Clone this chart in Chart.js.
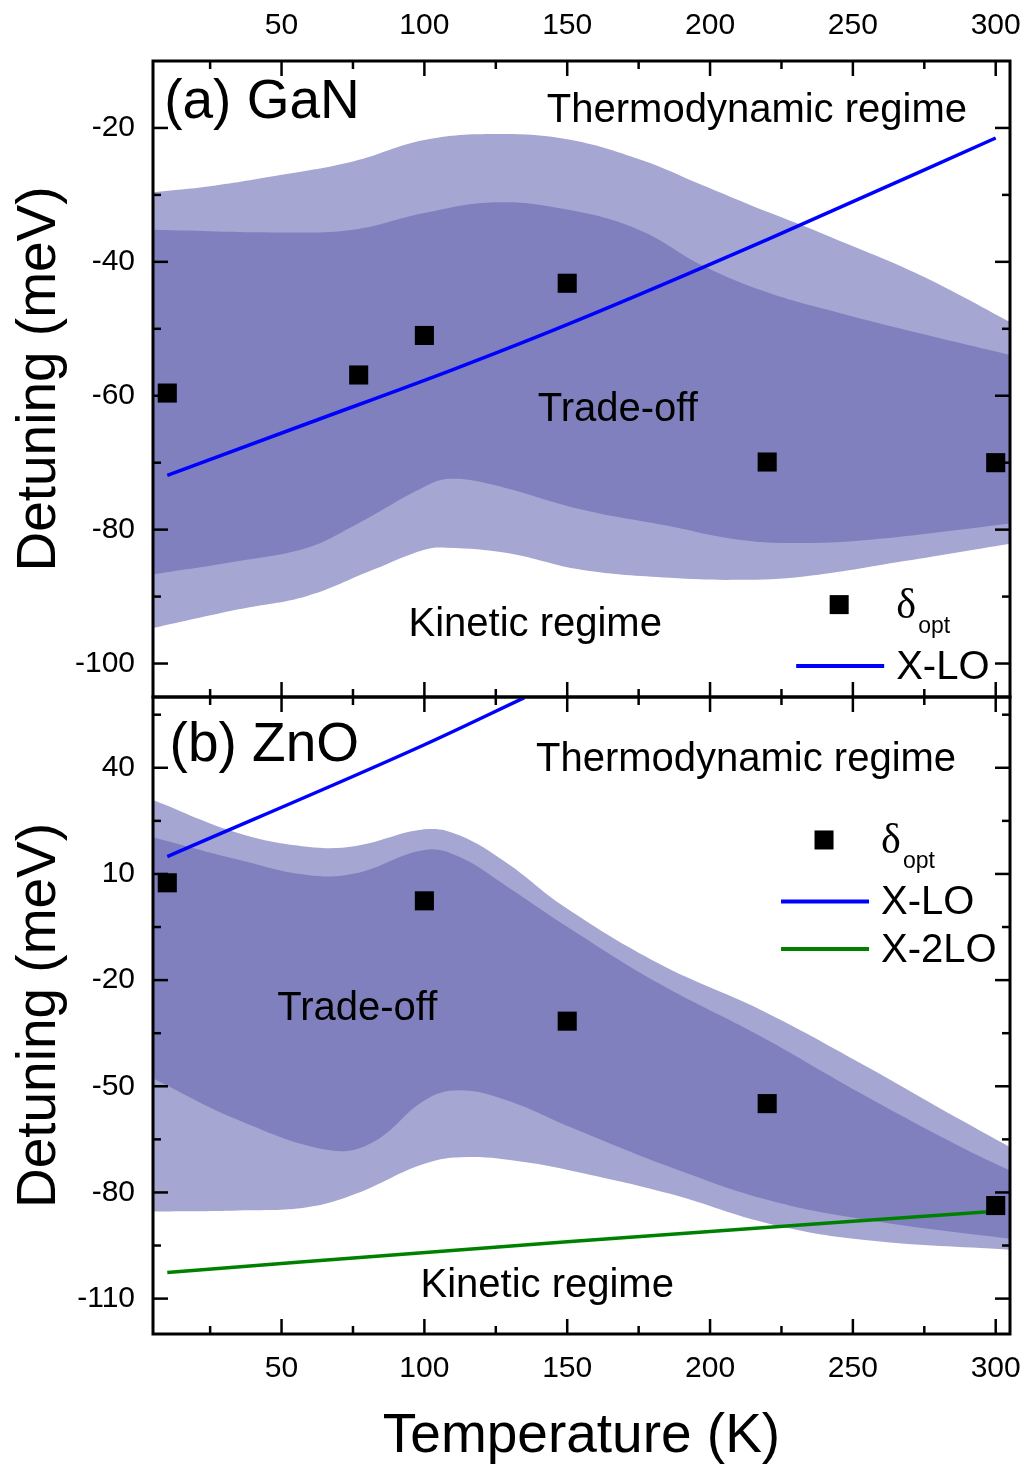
<!DOCTYPE html>
<html>
<head>
<meta charset="utf-8">
<title>Optimal detuning vs temperature</title>
<script src="https://cdn.jsdelivr.net/npm/chart.js@4.4.1/dist/chart.umd.min.js"></script>
<style>
  html, body { margin: 0; padding: 0; background: #fff; }
  #wrap { position: relative; width: 1027px; height: 1468px; }
  #wrap canvas { position: absolute; left: 0; top: 0; }
</style>
</head>
<body>
<div id="wrap">
  <canvas id="ganChart" width="1027" height="1468"></canvas>
  <canvas id="znoChart" width="1027" height="1468"></canvas>
</div>
<script>
// ---- axis ticks ----
const xTicks = [50, 100, 150, 200, 250, 300];
const xMinor = [25, 75, 125, 175, 225, 275];
const ganTicks = [-100, -80, -60, -40, -20];
const ganMinor = [-90, -70, -50, -30];
const znoTicks = [-110, -80, -50, -20, 10, 40];
const znoMinor = [-95, -65, -35, -5, 25, 55];

// ---- (a) GaN ----
const ganOptT = [10, 77, 100, 150, 220, 300];
const ganOpt = [-59.6, -56.9, -51.0, -43.2, -69.9, -70.0];
const ganLoT = [10, 60, 110, 151, 221, 300];
const ganLo = [-71.9, -64.0, -56.1, -49.2, -36.5, -21.5];

const ganOuterHiT = [5, 25, 50, 75, 100, 125, 150, 176, 197, 214, 232, 249, 267, 284, 305];
const ganOuterHi = [-29.6, -28.7, -27.0, -25.0, -21.8, -20.9, -21.7, -24.8, -28.5, -31.5, -34.5, -37.5, -40.7, -44.2, -49.0];
const ganInnerHiT = [5, 50, 75, 100, 125, 150, 175, 198, 221, 245, 268, 305];
const ganInnerHi = [-35.2, -35.6, -35.2, -32.7, -31.1, -32.2, -35.2, -40.7, -44.7, -47.6, -50.1, -53.9];
const ganInnerLoT = [5, 35, 59, 75, 100, 109, 124, 155, 186, 210, 233, 256, 280, 305];
const ganInnerLo = [-86.7, -84.7, -82.7, -79.5, -73.6, -72.4, -73.3, -77.0, -79.5, -81.5, -82.0, -81.5, -80.4, -79.1];
const ganOuterLoT = [5, 35, 59, 82, 100, 108, 129, 155, 186, 210, 233, 268, 305];
const ganOuterLo = [-94.7, -91.9, -89.9, -86.0, -83.0, -82.7, -83.5, -86.0, -87.2, -87.5, -87.0, -84.7, -82.1];

// ---- (b) ZnO ----
const znoOptT = [10, 100, 150, 220, 300];
const znoOpt = [7.5, 2.4, -31.6, -54.9, -83.7];
const znoLoT = [10, 100, 135];
const znoLo = [14.9, 46.5, 59.8];
const zno2LoT = [10, 150, 300];
const zno2Lo = [-102.6, -93.9, -85.3];

const znoOuterHiT = [5, 35, 59, 76, 100, 112, 129, 149, 182, 218, 253, 288, 305];
const znoOuterHi = [30.9, 21.5, 17.7, 17.9, 22.6, 21.0, 13.0, 0.7, -15.3, -28.5, -43.6, -59.6, -67.2];
const znoInnerHiT = [5, 35, 59, 76, 100, 112, 129, 149, 182, 218, 253, 288, 305];
const znoInnerHi = [20.4, 14.0, 9.7, 10.2, 16.8, 14.9, 6.4, -4.4, -20.9, -36.0, -52.1, -67.2, -73.8];
const znoInnerLoT = [5, 35, 67, 82, 100, 112, 129, 151, 186, 221, 256, 305];
const znoInnerLo = [-47.8, -59.6, -68.1, -65.8, -54.0, -51.1, -54.0, -61.5, -72.8, -82.3, -87.9, -93.1];
const znoOuterLoT = [5, 35, 59, 76, 100, 115, 135, 151, 186, 221, 256, 305];
const znoOuterLo = [-85.4, -85.1, -84.2, -80.4, -71.9, -70.0, -71.4, -73.8, -80.4, -88.9, -93.6, -96.2];

// ---- styles ----
const sans = '"Liberation Sans", Arial, sans-serif';
const serif = '"Liberation Serif", "Times New Roman", serif';
const BLUE = '#0000ff';
const GREEN = '#008000';
const LIGHT = '#a5a6d1';
const DARK = '#8080bf';

Chart.defaults.font.family = sans;
Chart.defaults.color = '#000';

const pts = (xs, ys) => xs.map((x, i) => ({x: x, y: ys[i]}));

function band(data, color, fill) {
    return {
        data: data,
        fill: fill ? '+1' : false,
        backgroundColor: color,
        borderColor: 'rgba(0,0,0,0)',
        borderWidth: 0,
        pointRadius: 0,
        tension: 0.4
    };
}

function curve(data, color) {
    return {
        data: data,
        borderColor: color,
        borderWidth: 3.5,
        pointRadius: 0,
        fill: false,
        cubicInterpolationMode: 'monotone'
    };
}

function markers(data) {
    return {
        data: data,
        showLine: false,
        pointStyle: 'rect',
        pointRadius: 13.5,
        pointBackgroundColor: '#000',
        pointBorderWidth: 0,
        fill: false
    };
}

// frame with inward ticks on all four sides
const framePlugin = {
    id: 'frame',
    afterDraw(chart, args, opts) {
        const {ctx, chartArea: a} = chart;
        const xs = chart.scales.x, ys = chart.scales.y;
        const seg = (x1, y1, x2, y2) => {
            ctx.beginPath(); ctx.moveTo(x1, y1); ctx.lineTo(x2, y2); ctx.stroke();
        };
        ctx.save();
        ctx.strokeStyle = '#000';
        ctx.lineWidth = 2.5;
        const xMark = (v, len) => {
            const p = xs.getPixelForValue(v);
            seg(p, a.top, p, a.top + len);
            seg(p, a.bottom, p, a.bottom - len);
        };
        const yMark = (v, len) => {
            const p = ys.getPixelForValue(v);
            seg(a.left, p, a.left + len, p);
            seg(a.right, p, a.right - len, p);
        };
        xTicks.forEach(v => xMark(v, 15));
        xMinor.forEach(v => xMark(v, 8));
        opts.yMajor.forEach(v => yMark(v, 15));
        opts.yMinor.forEach(v => yMark(v, 8));
        ctx.lineWidth = 3;
        ctx.strokeRect(a.left, a.top, a.right - a.left, a.bottom - a.top);
        ctx.restore();
    }
};

// panel labels, regime names and the legend
const textPlugin = {
    id: 'panelText',
    afterDraw(chart, args, opts) {
        const ctx = chart.ctx;
        const xs = chart.scales.x, ys = chart.scales.y;
        ctx.save();
        ctx.fillStyle = '#000';
        ctx.textBaseline = 'alphabetic';
        opts.labels.forEach(l => {
            ctx.font = l.size + 'px ' + sans;
            ctx.textAlign = l.align || 'center';
            ctx.fillText(l.text, xs.getPixelForValue(l.x), ys.getPixelForValue(l.y));
        });

        const lg = opts.legend;
        const cx = xs.getPixelForValue(lg.x), cy = ys.getPixelForValue(lg.y);
        ctx.fillRect(cx - 9.5, cy - 9.5, 19, 19);
        ctx.textAlign = 'left';
        ctx.font = '42px ' + serif;
        ctx.fillText('δ', cx + 57, cy + 13);
        ctx.font = '23px ' + sans;
        ctx.fillText('opt', cx + 79, cy + 28);
        lg.lines.forEach((item, i) => {
            const ry = cy + 61.5 + i * 47.5;
            ctx.strokeStyle = item.color;
            ctx.lineWidth = 4;
            ctx.beginPath(); ctx.moveTo(cx - 43, ry); ctx.lineTo(cx + 45, ry); ctx.stroke();
            ctx.font = '40px ' + sans;
            ctx.fillText(item.text, cx + 57, ry + 13);
        });
        ctx.restore();
    }
};

function xAxis(position, height, withTitle) {
    return {
        type: 'linear',
        position: position,
        min: 5,
        max: 305,
        afterBuildTicks: s => { s.ticks = xTicks.map(v => ({value: v})); },
        afterFit: s => {
            s.height = height;
            // the "300" label may hang past the frame
            s.paddingLeft = 0;
            s.paddingRight = 0;
        },
        grid: {display: false, drawTicks: false},
        border: {display: false},
        ticks: {padding: 17, font: {size: 30}, color: '#000'},
        title: {
            display: withTitle,
            text: 'Temperature (K)',
            color: '#000',
            font: {size: 55, lineHeight: 1.15},
            padding: {top: 0, bottom: 0}
        }
    };
}

function yAxis(min, max, ticks) {
    return {
        type: 'linear',
        position: 'left',
        min: min,
        max: max,
        afterBuildTicks: s => { s.ticks = ticks.map(v => ({value: v})); },
        afterFit: s => {
            s.width = 153;
            s.paddingTop = 0;
            s.paddingBottom = 0;
        },
        grid: {display: false, drawTicks: false},
        border: {display: false},
        ticks: {padding: 18, font: {size: 30}, color: '#000'},
        title: {
            display: true,
            text: 'Detuning (meV)',
            color: '#000',
            font: {size: 55},
            padding: {top: 7}
        }
    };
}

// (a) GaN, top panel
new Chart(document.getElementById('ganChart'), {
    type: 'line',
    data: {
        datasets: [
            markers(pts(ganOptT, ganOpt)),
            curve(pts(ganLoT, ganLo), BLUE),
            band(pts(ganInnerHiT, ganInnerHi), DARK, true),
            band(pts(ganInnerLoT, ganInnerLo), DARK, false),
            band(pts(ganOuterHiT, ganOuterHi), LIGHT, true),
            band(pts(ganOuterLoT, ganOuterLo), LIGHT, false)
        ]
    },
    options: {
        responsive: false,
        animation: false,
        layout: {padding: {left: 0, right: 17, top: 0, bottom: 771}},
        scales: {
            x: xAxis('top', 61, false),
            y: yAxis(-105, -10, ganTicks)
        },
        plugins: {
            legend: {display: false},
            tooltip: {enabled: false},
            frame: {yMajor: ganTicks, yMinor: ganMinor},
            panelText: {
                labels: [
                    {text: '(a) GaN', x: 8.9, y: -18.5, size: 55, align: 'left'},
                    {text: 'Thermodynamic regime', x: 216.4, y: -19.1, size: 40},
                    {text: 'Trade-off', x: 167.7, y: -63.8, size: 40},
                    {text: 'Kinetic regime', x: 138.8, y: -95.9, size: 40}
                ],
                legend: {x: 245.2, y: -91.2, lines: [{text: 'X-LO', color: BLUE}]}
            }
        }
    },
    plugins: [framePlugin, textPlugin]
});

// (b) ZnO, bottom panel
new Chart(document.getElementById('znoChart'), {
    type: 'line',
    data: {
        datasets: [
            markers(pts(znoOptT, znoOpt)),
            curve(pts(znoLoT, znoLo), BLUE),
            curve(pts(zno2LoT, zno2Lo), GREEN),
            band(pts(znoInnerHiT, znoInnerHi), DARK, true),
            band(pts(znoInnerLoT, znoInnerLo), DARK, false),
            band(pts(znoOuterHiT, znoOuterHi), LIGHT, true),
            band(pts(znoOuterLoT, znoOuterLo), LIGHT, false)
        ]
    },
    options: {
        responsive: false,
        animation: false,
        layout: {padding: {left: 0, right: 17, top: 697, bottom: 0}},
        scales: {
            x: xAxis('bottom', 134, true),
            y: yAxis(-120, 60, znoTicks)
        },
        plugins: {
            legend: {display: false},
            tooltip: {enabled: false},
            frame: {yMajor: znoTicks, yMinor: znoMinor},
            panelText: {
                labels: [
                    {text: '(b) ZnO', x: 10.8, y: 41.8, size: 55, align: 'left'},
                    {text: 'Thermodynamic regime', x: 212.6, y: 39, size: 40},
                    {text: 'Trade-off', x: 76.5, y: -31.3, size: 40},
                    {text: 'Kinetic regime', x: 143, y: -109.6, size: 40}
                ],
                legend: {
                    x: 239.9, y: 19.6,
                    lines: [{text: 'X-LO', color: BLUE}, {text: 'X-2LO', color: GREEN}]
                }
            }
        }
    },
    plugins: [framePlugin, textPlugin]
});
</script>
</body>
</html>
